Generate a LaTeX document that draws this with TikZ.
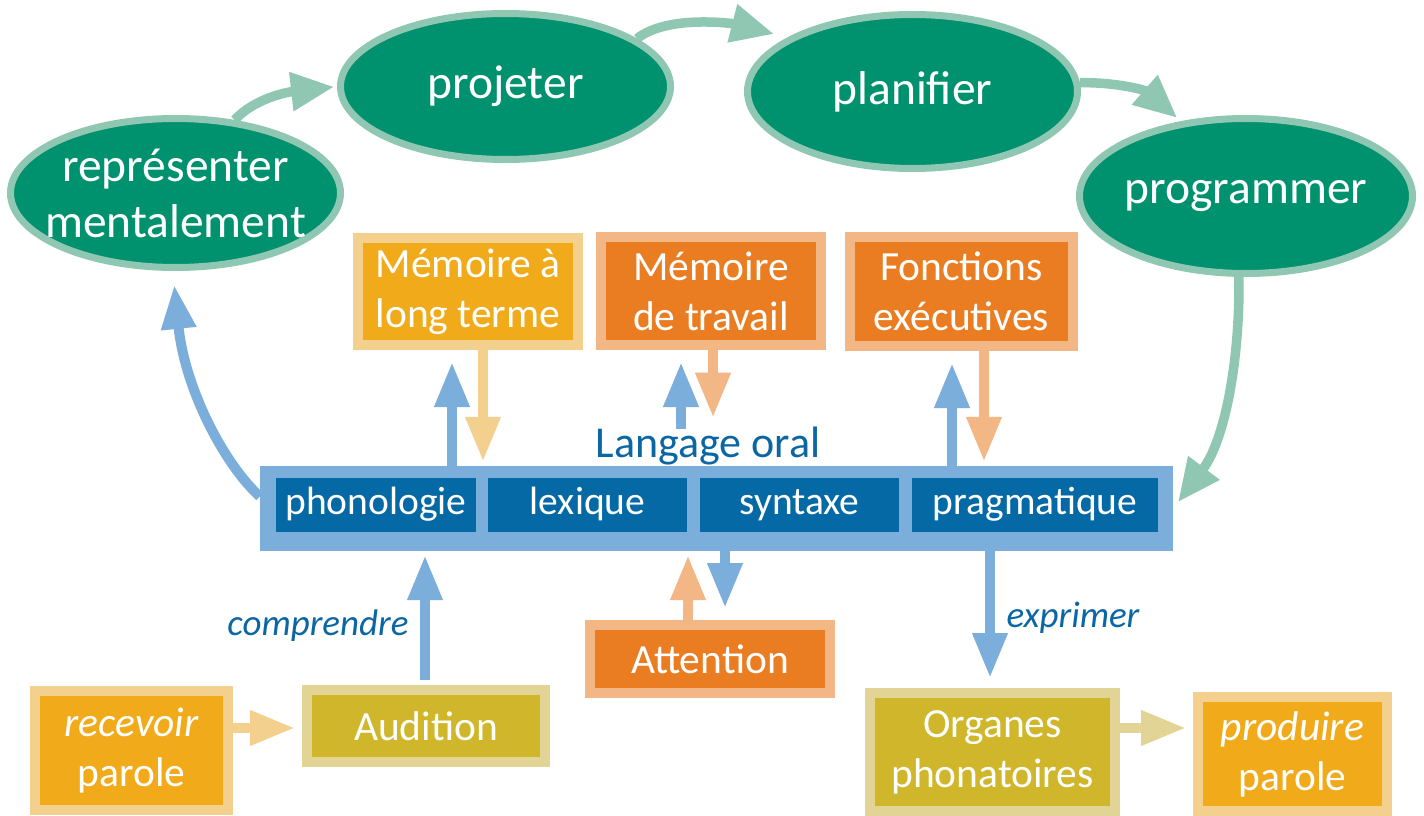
\documentclass[tikz,border=0pt]{standalone}
\usepackage{fontspec}
\setmainfont{Carlito}
\usetikzlibrary{arrows.meta,shapes.geometric,calc}
\definecolor{eFill}{HTML}{00916E}
\definecolor{eLine}{HTML}{8FC7B2}
\definecolor{bDark}{HTML}{0569A6}
\definecolor{bLight}{HTML}{7BAEDB}
\definecolor{bText}{HTML}{0B67A3}
\definecolor{oDark}{HTML}{EA7D21}
\definecolor{oLight}{HTML}{F2B784}
\definecolor{yDark}{HTML}{F0AA1A}
\definecolor{yLight}{HTML}{F4D08E}
\definecolor{kDark}{HTML}{CFB62A}
\definecolor{kLight}{HTML}{E1D494}
\newcommand\myfs[2]{\fontsize{#1}{#2}\selectfont}
\begin{document}
\begin{tikzpicture}[x=1pt,y=-1pt,
  ell/.style={ellipse, fill=eFill, draw=eLine, line width=7pt, inner sep=0pt},
  etext/.style={text=white, align=center, font=\myfs{47.5}{56}, inner sep=0pt},
  box/.style={rectangle, line width=10pt, align=center, inner sep=0pt, text=white, font=\myfs{41.5}{50}},
  ybox/.style={box, fill=yDark, draw=yLight},
  obox/.style={box, fill=oDark, draw=oLight},
  kbox/.style={box, fill=kDark, draw=kLight},
  lbox/.style={rectangle, fill=bDark, text=white, inner sep=0pt, minimum height=54pt, text height=27pt, text depth=8pt, font=\myfs{39.5}{47}},
  sarr/.style={line width=10pt, -{Triangle[length=45pt,width=33pt]}},
  barr/.style={sarr, draw=bLight},
  yarr/.style={sarr, draw=yLight},
  oarr/.style={sarr, draw=oLight},
  karr/.style={sarr, draw=kLight},
  carr/.style={draw=bLight, line width=10pt, -{Triangle[length=44pt,width=33pt]}},
  garr/.style={draw=eLine, line width=9.5pt, -{Triangle[length=43pt,width=37pt]}},
  lab/.style={text=bText, font=\myfs{37}{44}\itshape, inner sep=0pt}
]
\useasboundingbox[fill=white] (0,0) rectangle (1424,816);

% ellipses
\node[ell, minimum width=330pt, minimum height=149pt] (rep) at (175.5,193) {};
\node[ell, minimum width=330pt, minimum height=146pt] (proj) at (505.5,86.5) {};
\node[ell, minimum width=330pt, minimum height=154pt] (plan) at (912.5,91.5) {};
\node[ell, minimum width=333pt, minimum height=155pt] (prog) at (1246,196) {};
\node[etext] (repT) at (rep.center) {représenter\\mentalement};
\node[etext] (projT) at (proj.center) {projeter};
\node[etext] (planT) at (plan.center) {planifier};
\node[etext] (progT) at (prog.center) {programmer};

% upper boxes
\node[ybox, minimum width=220pt, minimum height=107pt] (mlt) at (468,291.5) {Mémoire à\\long terme};
\node[obox, minimum width=220pt, minimum height=108pt] (mdt) at (711,291) {Mémoire\\de travail};
\node[obox, minimum width=223pt, minimum height=109pt] (fe) at (961.5,291.5) {Fonctions\\exécutives};

% language bar
\node[fill=bLight, minimum width=913pt, minimum height=85pt, inner sep=0pt] (bar) at (716.5,508.5) {};
\node[lbox, minimum width=200pt] (phon) at (376,505) {phonologie};
\node[lbox, minimum width=199pt] (lex) at (587.5,505) {lexique};
\node[lbox, minimum width=199pt] (syn) at (799.5,505) {syntaxe};
\node[lbox, minimum width=246pt] (prag) at (1035,505) {pragmatique};
\node[text=bText, font=\myfs{44}{50}, inner sep=0pt] (lo) at (708,446) {Langage oral};

% lower boxes
\node[obox, minimum width=240pt, minimum height=68pt] (att) at (710,659) {Attention};
\node[ybox, minimum width=193pt, minimum height=119pt] (rec) at (131.5,750.5) {\textit{recevoir}\\parole};
\node[kbox, minimum width=238pt, minimum height=72pt] (aud) at (426,726) {Audition};
\node[kbox, minimum width=245pt, minimum height=118pt] (org) at (992.5,752) {Organes\\phonatoires};
\node[ybox, minimum width=189pt, minimum height=114pt] (prod) at (1292.5,754) {\textit{produire}\\parole};

\node[lab] (comp) at (318,626) {comprendre};
\node[lab] (expr) at (1073,618) {exprimer};

% helper coordinates
\coordinate (xA) at (452,0);
\coordinate (xB) at (483,0);
\coordinate (xC) at (681,0);
\coordinate (xD) at (713,0);
\coordinate (xE) at (952,0);
\coordinate (xF) at (984,0);
\coordinate (xG) at (688,0);
\coordinate (xH) at (725,0);
\coordinate (xI) at (425,0);
\coordinate (xJ) at (990,0);
\coordinate (yK) at (0,728);
\coordinate (t2) at (774,34);

% straight arrows
\draw[barr, shorten >=12pt] (bar.north -| xA) -- (mlt.south -| xA);
\draw[yarr, shorten >=4pt] (mlt.south -| xB) -- (bar.north -| xB);
\draw[barr, shorten >=12pt, shorten <=-2pt] (lo.north -| xC) -- (mdt.south -| xC);
\draw[oarr, shorten >=9pt] (mdt.south -| xD) -- (lo.north -| xD);
\draw[barr, shorten >=12pt] (bar.north -| xE) -- (fe.south -| xE);
\draw[oarr, shorten >=4pt] (fe.south -| xF) -- (bar.north -| xF);
\draw[oarr, shorten >=4pt] (att.north -| xG) -- (bar.south -| xG);
\draw[barr, shorten >=12pt] (bar.south -| xH) -- (att.north -| xH);
\draw[barr, shorten >=4pt, shorten <=5pt] (aud.north -| xI) -- (bar.south -| xI);
\draw[barr, shorten >=10pt] (bar.south -| xJ) -- (org.north -| xJ);
\draw[yarr, shorten >=7pt] (rec.east |- yK) -- (aud.west |- yK);
\draw[karr, shorten >=7pt] (org.east |- yK) -- (prod.west |- yK);

% curved arrows
\draw[garr, shorten >=3pt] (rep.51) .. controls (255,98) and (288,92) .. (proj.west);
\draw[garr] (proj.20) .. controls (668,14) and (735,24) .. (t2);
\draw[garr, shorten >=5pt] (plan.3) .. controls (1115,82) and (1145,90) .. (prog.131);
\draw[garr, shorten >=8pt] (prog.265) .. controls (1240,360) and (1225,440) .. (bar.east);
\draw[carr, shorten >=14pt] ([yshift=12pt]bar.west) .. controls (225,465) and (185,390) .. (rep.268);
\end{tikzpicture}
\end{document}
